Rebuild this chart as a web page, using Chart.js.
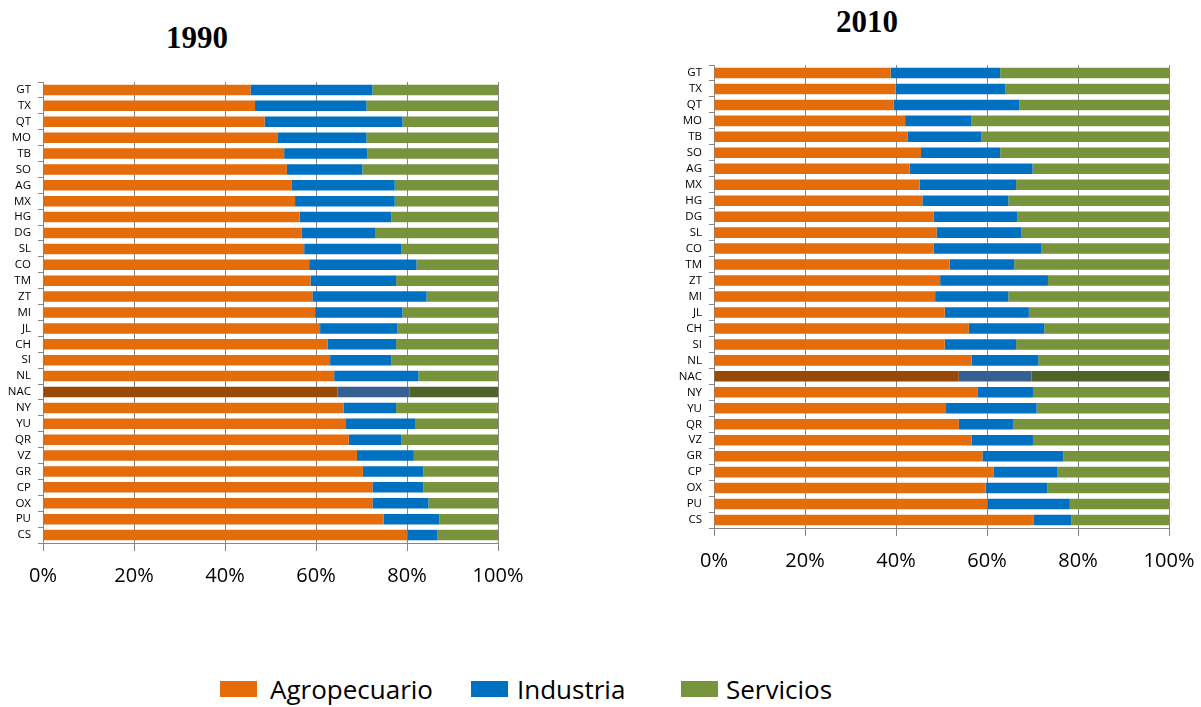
<!DOCTYPE html>
<html>
<head>
<meta charset="utf-8">
<script src="https://cdn.jsdelivr.net/npm/chart.js@4.4.1/dist/chart.umd.min.js"></script>
<style>
  body { margin: 0; background: #fff; width: 1201px; height: 707px; position: relative; overflow: hidden; font-family: "Open Sans", sans-serif; }
  .wrap { position: absolute; }
  .title { position: absolute; font-family: "Liberation Serif", serif; font-weight: bold; font-size: 31px; color: #000; transform: translate(-50%, -50%); line-height: 1; }
  .key { position: absolute; width: 37px; height: 16px; }
  .lbl { position: absolute; font-size: 26px; color: #000; line-height: 1; transform: translateY(-50%); }
</style>
</head>
<body>
<div class="title" style="left:197px; top:37px">1990</div>
<div class="title" style="left:867px; top:21px">2010</div>
<div class="wrap" style="left:0; top:0; width:540px; height:610px"><canvas id="c1990"></canvas></div>
<div class="wrap" style="left:670px; top:0; width:531px; height:600px"><canvas id="c2010"></canvas></div>

<div class="key" style="left:220px; top:681px; background:#E46C0A"></div>
<div class="lbl" style="left:270px; top:689px">Agropecuario</div>
<div class="key" style="left:471px; top:681px; background:#0070C0"></div>
<div class="lbl" style="left:517px; top:689px">Industria</div>
<div class="key" style="left:681px; top:681px; background:#77933C"></div>
<div class="lbl" style="left:726px; top:689px">Servicios</div>

<script>
// categories, same order in both years
const estados = ['GT','TX','QT','MO','TB','SO','AG','MX','HG','DG','SL','CO','TM','ZT','MI',
                 'JL','CH','SI','NL','NAC','NY','YU','QR','VZ','GR','CP','OX','PU','CS'];
const pctTicks = [0, 20, 40, 60, 80, 100];

// 1990 shares (%)
const agro1990 = [45.6,46.6,48.7,51.5,53.0,53.6,54.7,55.4,56.4,56.8,57.4,58.5,58.8,59.2,59.8,
                  60.9,62.6,63.1,64.0,64.7,66.1,66.6,67.2,69.0,70.3,72.4,72.4,74.9,80.1];
const ind1990  = [26.8,24.5,30.3,19.6,18.3,16.6,22.6,21.9,20.2,16.3,21.3,23.6,18.8,25.1,19.2,
                  17.0,15.0,13.5,18.5,15.8,11.5,15.3,11.5,12.5,13.3,11.2,12.3,12.2,6.6];
const serv1990 = [27.6,28.9,21.0,28.9,28.7,29.8,22.7,22.7,23.4,26.9,21.3,17.9,22.4,15.7,21.0,
                  22.1,22.4,23.4,17.5,19.5,22.4,18.1,21.3,18.5,16.4,16.4,15.3,12.9,13.3];

// 2010 shares (%)
const agro2010 = [38.8,39.9,39.5,42.0,42.6,45.5,43.0,45.2,45.8,48.3,48.9,48.3,51.8,49.7,48.6,
                  50.7,56.0,50.7,56.6,53.8,57.9,51.0,53.8,56.6,59.0,61.5,59.7,60.1,70.2];
const ind2010  = [24.1,24.1,27.6,14.6,16.2,17.4,27.0,21.2,18.9,18.4,18.6,23.6,14.2,23.7,16.1,
                  18.5,16.6,15.7,14.7,16.0,12.2,19.9,11.9,13.5,17.8,14.0,13.6,18.1,8.3];
const serv2010 = [37.1,36.0,32.9,43.4,41.2,37.1,30.0,33.6,35.3,33.3,32.5,28.1,34.0,26.6,35.3,
                  30.8,27.4,33.6,28.7,30.2,29.9,29.1,34.3,29.9,23.2,24.5,26.7,21.8,21.5];

const COLORS = {
  agro: ['#E46C0A', '#984807'],
  ind:  ['#0070C0', '#376092'],
  serv: ['#77933C', '#4F6228'],
};
const GRID = '#868686';

// the national total (NAC) is drawn in darker shades
function pick(pair) {
  return ctx => estados[ctx.dataIndex] === 'NAC' ? pair[1] : pair[0];
}

function makeChart(id, agro, ind, serv, pad, yWidth) {
  const ds = (label, data, pair) => ({
    label, data,
    backgroundColor: pick(pair),
    borderWidth: 0,
    barPercentage: 0.66,
    categoryPercentage: 1.0,
  });
  return new Chart(document.getElementById(id), {
    type: 'bar',
    data: {
      labels: estados,
      datasets: [
        ds('Agropecuario', agro, COLORS.agro),
        ds('Industria', ind, COLORS.ind),
        ds('Servicios', serv, COLORS.serv),
      ],
    },
    options: {
      indexAxis: 'y',
      responsive: true,
      maintainAspectRatio: false,
      animation: false,
      layout: { padding: pad },
      plugins: { legend: { display: false }, tooltip: { enabled: false }, title: { display: false } },
      scales: {
        x: {
          stacked: true,
          min: 0, max: 100,
          afterBuildTicks: s => { s.ticks = pctTicks.map(v => ({ value: v })); },
          afterFit: s => { s.height = 45; s.paddingLeft = 16; s.paddingRight = 26; },
          ticks: {
            callback: v => v + '%',
            color: '#000',
            padding: 13,
            maxRotation: 0,
            font: { family: 'Open Sans', size: 20 },
          },
          grid: { color: GRID, tickLength: 8, lineWidth: 1 },
          border: { color: GRID },
        },
        y: {
          stacked: true,
          afterFit: s => { s.width = yWidth; },
          ticks: {
            autoSkip: false,
            color: '#000',
            padding: 7,
            font: { family: 'Open Sans', size: 11.5 },
          },
          grid: { offset: true, drawOnChartArea: false, tickLength: 5, color: GRID },
          border: { color: GRID },
        },
      },
    },
  });
}

makeChart('c1990', agro1990, ind1990, serv1990, { top: 82, right: 42, bottom: 22, left: 0 }, 43);
makeChart('c2010', agro2010, ind2010, serv2010, { top: 65, right: 32, bottom: 27, left: 0 }, 44);
</script>
</body>
</html>
